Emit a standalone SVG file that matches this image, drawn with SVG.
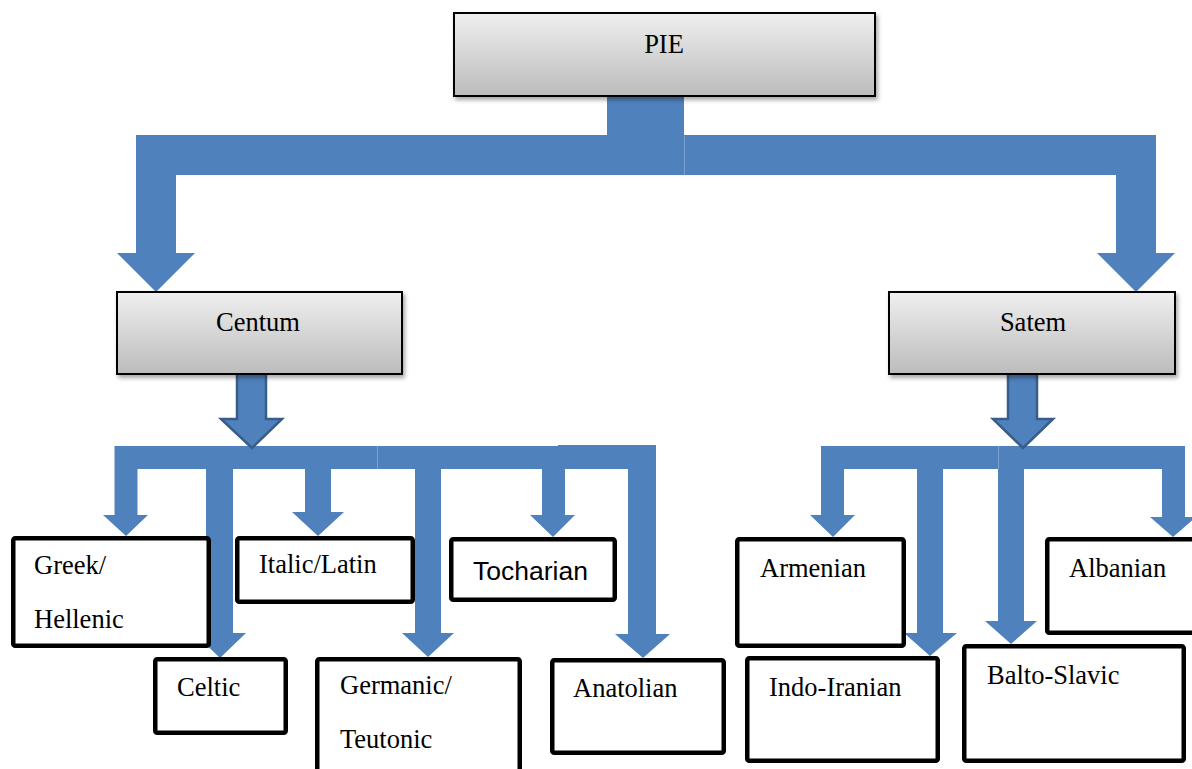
<svg xmlns="http://www.w3.org/2000/svg" width="1192" height="769" viewBox="0 0 1192 769">
  <defs>
    <linearGradient id="grayFill" x1="0" y1="0" x2="0" y2="1">
      <stop offset="0" stop-color="#efefef"/>
      <stop offset="1" stop-color="#bcbcbc"/>
    </linearGradient>
    <filter id="shadow" x="-5%" y="-10%" width="115%" height="130%">
      <feDropShadow dx="2" dy="3" stdDeviation="2" flood-color="#000" flood-opacity="0.35"/>
    </filter>
  </defs>
  <style>
    .head { fill: url(#grayFill); stroke: #000; stroke-width: 2; filter: url(#shadow); }
    .leaf { fill: #fff; stroke: #000; stroke-width: 4.5; }
    .flow { fill: #4f81bd; }
    .seam { stroke: #7ea2cf; stroke-width: 1; }
    .outlined { fill: #4f81bd; stroke: #385d8a; stroke-width: 2.5; stroke-linejoin: miter; }
    .serif { font-family: "Liberation Serif", "Times New Roman", serif; font-size: 26.5px; fill: #000; }
    .sans { font-family: "Liberation Sans", Arial, sans-serif; font-size: 26.5px; fill: #000; }
  </style>

  <rect width="1192" height="769" fill="#fff"/>

  <!-- connectors -->
  <g id="connectors">
    <!-- PIE split to Centum / Satem -->
    <path class="flow" d="M607,135 H136 V253 H117 L156,292 L195,253 H176 V175 H607 Z"/>
    <path class="flow" d="M684,135 H1156 V253 H1175 L1136,292 L1097,253 H1116 V175 H684 Z"/>
    <rect class="flow" x="607" y="95" width="77" height="80"/>
    <line class="seam" x1="684.5" y1="136" x2="684.5" y2="175"/>

    <!-- Centum bus -->
    <rect class="flow" x="114.5" y="446" width="541.5" height="23"/>
    <rect class="flow" x="558" y="445" width="98" height="24"/>
    <line class="seam" x1="377.5" y1="446" x2="377.5" y2="469"/>
    <path class="flow" d="M114.5,469 V515 H103 L126,536 L148,515 H137.5 V469 Z"/>
    <path class="flow" d="M206,469 V633 H194 L220,658 L246,633 H233 V469 Z"/>
    <path class="flow" d="M305,469 V512 H292 L318,536 L344,512 H331 V469 Z"/>
    <path class="flow" d="M415,469 V633 H402 L428,657 L454,633 H441 V469 Z"/>
    <path class="flow" d="M542,469 V515 H530 L553,537 L575,515 H565 V469 Z"/>
    <path class="flow" d="M628,446 V634 H615 L643,658 L670,634 H656 V446 Z"/>
    <path class="outlined" d="M237,372 H266 V419 H282 L252,448 L221,419 H237 Z"/>

    <!-- Satem bus -->
    <rect class="flow" x="821" y="446" width="364" height="23"/>
    <line class="seam" x1="998.5" y1="446" x2="998.5" y2="469"/>
    <path class="flow" d="M821,469 V515 H810 L833,537 L855,515 H844 V469 Z"/>
    <path class="flow" d="M917,469 V633 H904 L930,656 L957,633 H943 V469 Z"/>
    <path class="flow" d="M998,469 V621 H985 L1011,644 L1037,621 H1024 V469 Z"/>
    <path class="flow" d="M1162,446 V517 H1150 L1173,537 L1196,517 H1185 V446 Z"/>
    <path class="outlined" d="M1008,372 H1037 V419 H1053 L1023,448 L993,419 H1008 Z"/>
  </g>

  <!-- top level -->
  <g id="pie">
    <rect class="head" x="454" y="13" width="421" height="83"/>
    <text class="serif" x="664" y="53" text-anchor="middle">PIE</text>
  </g>
  <g id="centum">
    <rect class="head" x="117" y="292" width="285" height="82"/>
    <text class="serif" x="258" y="331" text-anchor="middle">Centum</text>
  </g>
  <g id="satem">
    <rect class="head" x="889" y="292" width="286" height="82"/>
    <text class="serif" x="1033" y="331" text-anchor="middle">Satem</text>
  </g>

  <!-- Centum branches -->
  <g id="greek">
    <rect class="leaf" x="13.25" y="538.25" width="195.5" height="107.5" rx="2"/>
    <text class="serif" x="34" y="574">Greek/</text>
    <text class="serif" x="34" y="628">Hellenic</text>
  </g>
  <g id="celtic">
    <rect class="leaf" x="155.25" y="659.25" width="130.5" height="73.5" rx="2"/>
    <text class="serif" x="177" y="696">Celtic</text>
  </g>
  <g id="italic">
    <rect class="leaf" x="237.25" y="538.25" width="175.5" height="63.5" rx="2"/>
    <text class="serif" x="259" y="573">Italic/Latin</text>
  </g>
  <g id="germanic">
    <rect class="leaf" x="317.25" y="659.25" width="202.5" height="130" rx="2"/>
    <text class="serif" x="340" y="694">Germanic/</text>
    <text class="serif" x="340" y="748">Teutonic</text>
  </g>
  <g id="tocharian">
    <rect class="leaf" x="451.25" y="539.25" width="163.5" height="60.5" rx="2"/>
    <text class="sans" x="473" y="580">Tocharian</text>
  </g>
  <g id="anatolian">
    <rect class="leaf" x="552.25" y="660.25" width="171.5" height="92.5" rx="2"/>
    <text class="serif" x="573" y="697">Anatolian</text>
  </g>

  <!-- Satem branches -->
  <g id="armenian">
    <rect class="leaf" x="737.25" y="539.25" width="166.5" height="106.5" rx="2"/>
    <text class="serif" x="760" y="577">Armenian</text>
  </g>
  <g id="indo-iranian">
    <rect class="leaf" x="747.25" y="658.25" width="190.5" height="102.5" rx="2"/>
    <text class="serif" x="769" y="696">Indo-Iranian</text>
  </g>
  <g id="balto-slavic">
    <rect class="leaf" x="964.25" y="646.25" width="219.5" height="114.5" rx="2"/>
    <text class="serif" x="987" y="684">Balto-Slavic</text>
  </g>
  <g id="albanian">
    <rect class="leaf" x="1047.25" y="539.25" width="160" height="93.5" rx="2"/>
    <text class="serif" x="1069" y="577">Albanian</text>
  </g>
</svg>
